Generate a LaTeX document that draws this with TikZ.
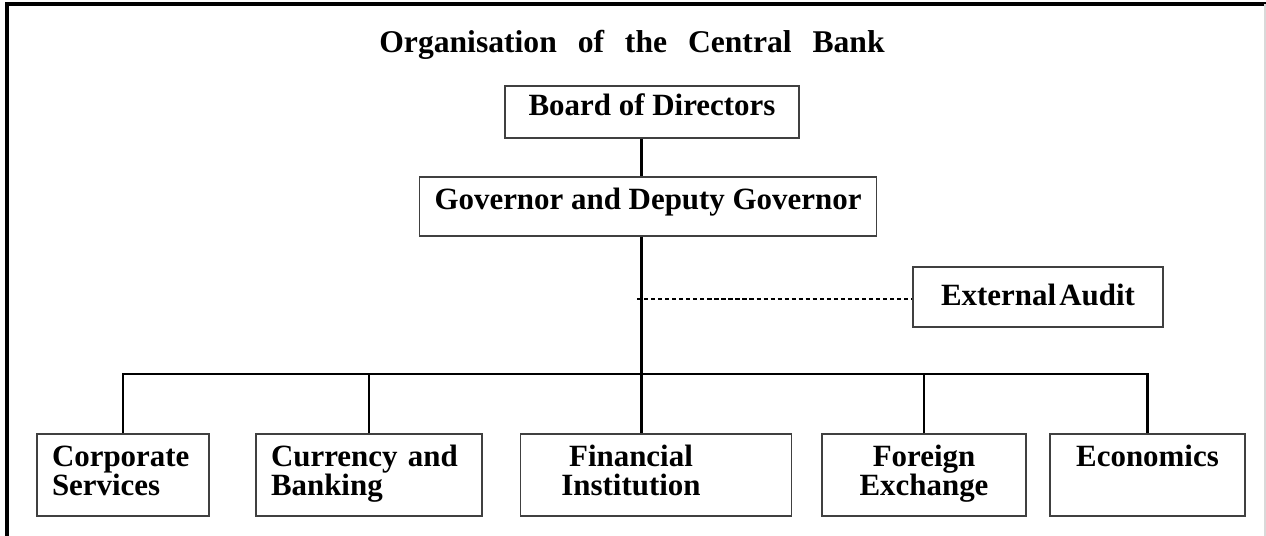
\documentclass[tikz,border=0pt]{standalone}
\usepackage{fontspec}
\setmainfont{Liberation Serif}
\usepackage{tikz}
\usetikzlibrary{positioning}
\definecolor{mgrey}{rgb}{0.25, 0.25, 0.25}
\definecolor{mframe}{rgb}{0.85, 0.85, 0.85}
\newcommand\titlefont{\bfseries\fontsize{18}{20}\selectfont\spaceskip=0.66em\relax}

\begin{document}
\begin{tikzpicture}[
    font=\bfseries\fontsize{17.6}{16.5}\selectfont,
    box/.style={draw=mgrey, line width=0.6pt, inner xsep=0.3cm, inner ysep=0.1cm, text height=0.42cm},
    headbox/.style={box, text depth=0.29cm},
    unit/.style={box, minimum height=1.64cm, text depth=0.76cm},
    link/.style={line width=1.3pt}]
  \useasboundingbox (0,0) rectangle (25.32,10.72);
  \draw [line width=1.8pt] (0.14,0) -- (0.14,10.64) -- (25.32,10.64);
  \draw [mframe, line width=0.8pt] (25.3,10.64) -- (25.3,0);

  \node (title) [anchor=base, font=\titlefont] at (12.64,9.66) {Organisation of the Central Bank};

  \node (board) [headbox, minimum width=5.88cm, minimum height=1.04cm] at (13.04,8.48) {Board of Directors};
  \node (gov) [headbox, minimum width=9.04cm, minimum height=1.18cm] at (12.96,6.59) {Governor and Deputy Governor};
  \node (audit) [box, text depth=0.06cm, minimum width=5cm, minimum height=1.2cm] at (20.76,4.78) {External\kern0.1em Audit};

  \node (corp) [unit, align=left, text width=2.84cm] at (2.46,1.22) {Corporate\\Services};
  \node (curr) [unit, align=left, text width=3.92cm] at (7.38,1.22) {Currency and\\Banking};
  \node (fin) [unit, align=center, text width=4.81cm] at (13.12,1.22) {Financial\hspace*{1cm}\mbox{}\\Institution\hspace*{1cm}\mbox{}};
  \node (forex) [unit, align=center, text width=3.48cm] at (18.48,1.22) {Foreign\\Exchange};
  \node (econ) [unit, align=center, text width=3.3cm] at (22.95,1.22) {Economics};

  \coordinate (spine) at (12.83,3.24);
  \coordinate (tap) at (12.74,4.74);
  \draw [link] (board.south -| spine) -- (gov.north -| spine);
  \draw [link] (gov.south -| spine) -- (fin.north -| spine);
  \draw [link] (corp.north) |- (spine) -| (econ.north);
  \foreach \u in {curr,forex}
    \draw [link] (\u.north) -- (\u.north |- spine);
  \draw [line width=0.8pt, dash pattern=on 2.4pt off 1.6pt] (tap) -- (tap -| audit.west);
\end{tikzpicture}
\end{document}
